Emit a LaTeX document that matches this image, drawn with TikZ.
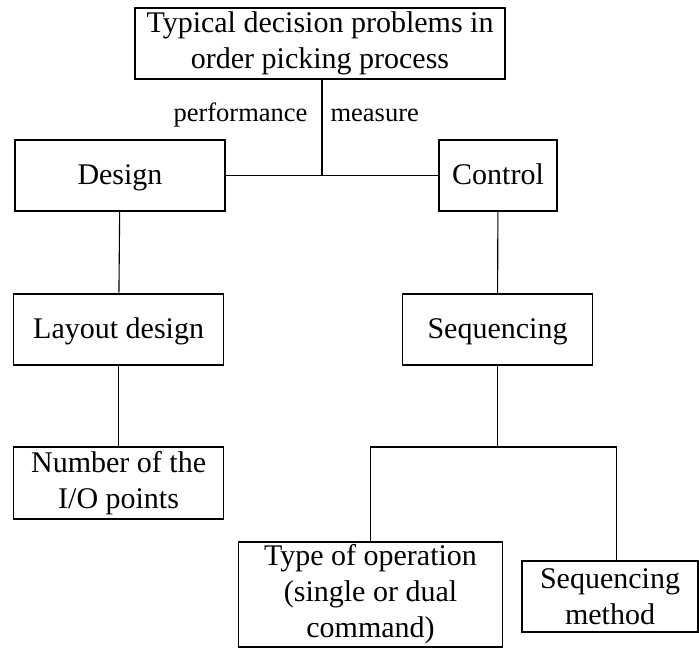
\documentclass[tikz,border=0pt]{standalone}
\usepackage{fontspec}
\setmainfont{Liberation Serif}
\begin{document}
\begin{tikzpicture}[x=1pt, y=-1pt, line width=1.1pt,
		box/.style={draw, align=center, inner sep=0pt, font=\fontsize{30}{36}\selectfont},
		single/.style={text height=22pt, text depth=5pt},
		lbl/.style={inner sep=0pt, font=\fontsize{26.5}{30}\selectfont}]
			\useasboundingbox (0,0) rectangle (699,648);
			\node[box, minimum width=370pt, minimum height=71pt] (problems) at (320,43.5) {Typical decision problems in\\order picking process};
			\node[box, single, minimum width=210pt, minimum height=71pt] (design) at (120,175.5) {Design};
			\node[box, single, minimum width=118pt, minimum height=71pt] (control) at (498,175.5) {Control};
			\node[box, single, minimum width=210pt, minimum height=71pt] (layout) at (118.6,329.5) {Layout design};
			\node[box, single, minimum width=190pt, minimum height=71pt] (sequencing) at (497.5,329.5) {Sequencing};
			\node[box, minimum width=210pt, minimum height=72pt] (number) at (118.6,483) {Number of the\\I/O points};
			\node[box, minimum width=264pt, minimum height=105pt] (operation) at (370.5,594.5) {Type of operation\\(single or dual\\command)};
			\node[box, minimum width=176pt, minimum height=71pt] (method) at (610,596.5) {Sequencing\\method};
			\node[lbl, anchor=east] (perf) at (308,115) {performance};
			\node[lbl, anchor=west] (meas) at (330,115) {measure};
			\coordinate (splitL) at (370.5,447);
			\coordinate (splitR) at (616.6,447);
			\draw (design) -- (control);
			\draw (problems.south -| 322,0) -- (322,175.5);
			\draw (design) -- (layout);
			\draw (layout) -- (number);
			\draw (control) -- (sequencing);
			\draw (sequencing) -- (sequencing |- splitL);
			\draw (operation.north) -- (splitL) -- (splitR) -- (splitR |- method.north);
		\end{tikzpicture}
\end{document}
